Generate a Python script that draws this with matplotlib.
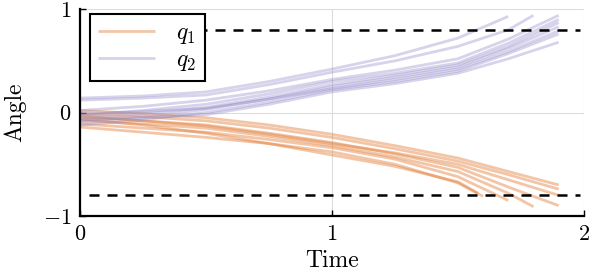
import matplotlib
matplotlib.use("Agg")
import matplotlib.pyplot as plt

plt.rcParams['font.family'] = 'serif'
plt.rcParams['font.serif'] = ['cmr10', 'DejaVu Serif']
plt.rcParams['mathtext.fontset'] = 'cm'
plt.rcParams['axes.unicode_minus'] = False

# sample times; each line also has its own end point
t_grid = [0.0, 0.25, 0.5, 0.75, 1.0, 1.25, 1.5]

# q2 (purple) trajectories
q2_vals = [
    [0.14, 0.16, 0.20, 0.30, 0.42, 0.55, 0.72],
    [0.12, 0.14, 0.17, 0.27, 0.39, 0.50, 0.64],
    [0.02, 0.06, 0.12, 0.21, 0.32, 0.41, 0.52],
    [-0.03, 0.02, 0.08, 0.18, 0.30, 0.38, 0.48],
    [-0.06, -0.01, 0.05, 0.15, 0.27, 0.36, 0.46],
    [-0.09, -0.04, 0.03, 0.13, 0.25, 0.34, 0.44],
    [-0.01, 0.01, 0.04, 0.13, 0.23, 0.32, 0.42],
    [-0.12, -0.07, 0.00, 0.10, 0.22, 0.30, 0.40],
    [-0.07, -0.05, -0.02, 0.08, 0.20, 0.28, 0.38],
]
# value at t = 1.7 (None where the line already ended)
q2_t17 = [None, 0.80, 0.71, 0.67, 0.64, 0.62, 0.59, 0.57, 0.52]
q2_end_t = [1.70, 1.80, 1.90, 1.90, 1.90, 1.90, 1.90, 1.90, 1.90]
q2_end = [0.93, 0.94, 0.94, 0.90, 0.87, 0.83, 0.79, 0.76, 0.68]

# q1 (orange) trajectories
q1_vals = [
    [0.02, -0.01, -0.05, -0.12, -0.21, -0.32, -0.44],
    [-0.01, -0.04, -0.08, -0.15, -0.24, -0.35, -0.47],
    [-0.04, -0.08, -0.12, -0.20, -0.29, -0.40, -0.53],
    [-0.08, -0.11, -0.15, -0.23, -0.32, -0.43, -0.57],
    [-0.11, -0.15, -0.19, -0.26, -0.34, -0.45, -0.62],
    [-0.14, -0.19, -0.24, -0.30, -0.38, -0.50, -0.68],
    [-0.06, -0.12, -0.20, -0.30, -0.41, -0.52, -0.67],
    [-0.03, -0.08, -0.13, -0.21, -0.30, -0.39, -0.50],
]
q1_t17 = [-0.57, -0.60, -0.72, -0.78, None, None, None, -0.65]
q1_end_t = [1.90, 1.90, 1.90, 1.80, 1.70, 1.60, 1.58, 1.90]
q1_end = [-0.70, -0.74, -0.90, -0.91, -0.85, -0.81, -0.78, -0.80]

limit = 0.8
orange = '#e47f3a'
purple = '#8a82c6'


def line_points(vals, t17, t_end, y_end):
    xs = list(t_grid)
    ys = list(vals)
    if t17 is not None:
        xs.append(1.7)
        ys.append(t17)
    xs.append(t_end)
    ys.append(y_end)
    return xs, ys


fig = plt.figure(figsize=(5.9, 2.74), dpi=100)
ax = fig.add_axes([0.1356, 0.2117, 0.854, 0.755])

for i in range(len(q1_vals)):
    xs, ys = line_points(q1_vals[i], q1_t17[i], q1_end_t[i], q1_end[i])
    ax.plot(xs, ys, color=orange, alpha=0.45, lw=2.0,
            label='$q_1$' if i == 0 else None, solid_capstyle='butt')
for i in range(len(q2_vals)):
    xs, ys = line_points(q2_vals[i], q2_t17[i], q2_end_t[i], q2_end[i])
    ax.plot(xs, ys, color=purple, alpha=0.35, lw=2.0,
            label='$q_2$' if i == 0 else None, solid_capstyle='butt')

ax.hlines([limit, -limit], 0.035, 1.985, colors='black', lw=1.8,
          linestyles=(0, (4.0, 3.2)), zorder=3)

ax.set_xlim(0, 2)
ax.set_ylim(-1, 1)
ax.set_xticks([0, 1, 2])
ax.set_yticks([-1, 0, 1])
ax.set_xticklabels(['$0$', '$1$', '$2$'])
ax.set_yticklabels(['$-1$', '$0$', '$1$'])
ax.tick_params(direction='in', length=4, width=1, labelsize=16, pad=6)
ax.grid(True, color='#dcdcdc', lw=0.8)
ax.set_axisbelow(True)
for s in ['top', 'right']:
    ax.spines[s].set_visible(False)
for s in ['left', 'bottom']:
    ax.spines[s].set_linewidth(1.6)

ax.set_xlabel('Time', fontsize=17, labelpad=4)
ax.set_ylabel('Angle', fontsize=17, labelpad=12)

leg = ax.legend(loc='upper left', fontsize=17, frameon=True, fancybox=False,
                handlelength=2.4, borderpad=0.35, labelspacing=0.1,
                bbox_to_anchor=(0.02, 0.976), borderaxespad=0,
                handletextpad=0.9)
leg.get_frame().set_edgecolor('black')
leg.get_frame().set_linewidth(1.5)
leg.get_frame().set_alpha(1)

fig.savefig('out.png', dpi=100)
